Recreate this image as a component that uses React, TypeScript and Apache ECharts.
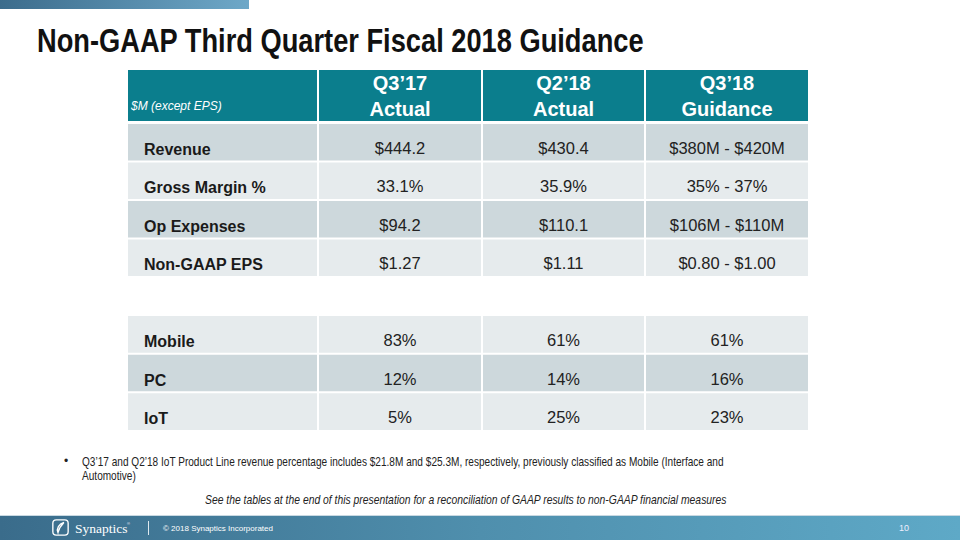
import React, { useEffect, useRef } from "react";
import * as echarts from "echarts";

// ---- data ----
const headerPeriods = ["Q3’17", "Q2’18", "Q3’18"];
const headerKinds = ["Actual", "Actual", "Guidance"];
const unitNote = "$M (except EPS)";

const financialMetrics = ["Revenue", "Gross Margin %", "Op Expenses", "Non-GAAP EPS"];
const q317Financial = ["$444.2", "33.1%", "$94.2", "$1.27"];
const q218Financial = ["$430.4", "35.9%", "$110.1", "$1.11"];
const q318Guidance = ["$380M - $420M", "35% - 37%", "$106M - $110M", "$0.80 - $1.00"];

const productLines = ["Mobile", "PC", "IoT"];
const q317Mix = ["83%", "12%", "5%"];
const q218Mix = ["61%", "14%", "25%"];
const q318Mix = ["61%", "16%", "23%"];

const titleText = "Non-GAAP Third Quarter Fiscal 2018 Guidance";
const footnoteLines = [
  "Q3’17 and Q2’18 IoT Product Line revenue percentage includes $21.8M and $25.3M, respectively, previously classified as Mobile (Interface and",
  "Automotive)",
];
const reconciliationNote =
  "See the tables at the end of this presentation for a reconciliation of GAAP results to non-GAAP financial measures";
const copyrightText = "© 2018 Synaptics Incorporated";
const pageNumber = "10";

// ---- layout / style constants ----
const COL_EDGES = [0, 190, 354, 517, 680];
const DARK = "#cdd8dc";
const LIGHT = "#e6ebed";
const TEAL = "#0b7e8d";
const FONT = "'Liberation Sans', Arial, sans-serif";

const LOGO_D =
  "M5 1 H15 Q19 1 19 5 V15 Q19 19 15 19 H5 Q1 19 1 15 V5 Q1 1 5 1 Z M14 4 C8 6 5 11 7 16 C8 12 10 8 14 4 Z";

function buildCells(rows: number, cols: number) {
  const out: number[][] = [];
  for (let r = 0; r < rows; r++) for (let c = 0; c < cols; c++) out.push([c, r]);
  return out;
}

function bodyRenderer(labels: string[], cols: string[][], shades: string[]) {
  return (params: any, api: any) => {
    const c = api.value(0) as number;
    const r = api.value(1) as number;
    const pL = api.coord([COL_EDGES[c], r]);
    const pR = api.coord([COL_EDGES[c + 1], r]);
    const bandH = api.size([0, 1])[1];
    const x0 = pL[0] + (c > 0 ? 1 : 0);
    const x1 = pR[0] - (c < 3 ? 1 : 0);
    const yc = pL[1];
    const y0 = yc - bandH / 2 + 1;
    const y1 = yc + bandH / 2 - 1;
    const children: any[] = [
      {
        type: "rect",
        shape: { x: x0, y: y0, width: x1 - x0, height: y1 - y0 },
        style: { fill: shades[r] },
      },
    ];
    if (c === 0) {
      children.push({
        type: "text",
        style: {
          text: labels[r],
          x: x0 + 16,
          y: yc + 7,
          align: "left",
          verticalAlign: "middle",
          font: `bold 16px ${FONT}`,
          fill: "#1a1a1a",
        },
      });
    } else {
      children.push({
        type: "text",
        style: {
          text: cols[c - 1][r],
          x: (x0 + x1) / 2,
          y: yc + 5.5,
          align: "center",
          verticalAlign: "middle",
          font: `16.5px ${FONT}`,
          fill: "#222",
        },
      });
    }
    return { type: "group", children };
  };
}

function headerRenderer(params: any, api: any) {
  const c = api.value(0) as number;
  const pL = api.coord([COL_EDGES[c], 0]);
  const pR = api.coord([COL_EDGES[c + 1], 0]);
  const bandH = api.size([0, 1])[1];
  const x0 = pL[0] + (c > 0 ? 1 : 0);
  const x1 = pR[0] - (c < 3 ? 1 : 0);
  const yc = pL[1];
  const children: any[] = [
    {
      type: "rect",
      shape: { x: x0, y: yc - bandH / 2, width: x1 - x0, height: bandH },
      style: { fill: TEAL },
    },
  ];
  if (c === 0) {
    children.push({
      type: "text",
      style: {
        text: unitNote,
        x: x0 + 3,
        y: yc + 10,
        align: "left",
        verticalAlign: "middle",
        font: `italic 12px ${FONT}`,
        fill: "#fff",
      },
    });
  } else {
    children.push(
      {
        type: "text",
        style: {
          text: headerPeriods[c - 1],
          x: (x0 + x1) / 2,
          y: yc - 13,
          align: "center",
          verticalAlign: "middle",
          font: `bold 20px ${FONT}`,
          fill: "#fff",
        },
      },
      {
        type: "text",
        style: {
          text: headerKinds[c - 1],
          x: (x0 + x1) / 2,
          y: yc + 13,
          align: "center",
          verticalAlign: "middle",
          font: `bold 20px ${FONT}`,
          fill: "#fff",
        },
      }
    );
  }
  return { type: "group", children };
}

export default function App() {
  const ref = useRef<HTMLDivElement>(null);
  useEffect(() => {
    if (!ref.current) return;
    echarts.graphic.registerShape("logo", echarts.graphic.extendPath(LOGO_D, {}) as any);
    const chart = echarts.init(ref.current, null, { renderer: "svg" });
    const hiddenX = (i: number) => ({ type: "value", gridIndex: i, min: 0, max: 680, show: false });
    const option: any = {
      animation: false,
      backgroundColor: "#ffffff",
      grid: [
        { left: 128, width: 680, top: 70, height: 51 },
        { left: 128, width: 680, top: 123, height: 154 },
        { left: 128, width: 680, top: 315, height: 116 },
      ],
      xAxis: [hiddenX(0), hiddenX(1), hiddenX(2)],
      yAxis: [
        { type: "category", gridIndex: 0, data: ["header"], inverse: true, show: false },
        { type: "category", gridIndex: 1, data: financialMetrics, inverse: true, show: false },
        { type: "category", gridIndex: 2, data: productLines, inverse: true, show: false },
      ],
      series: [
        {
          type: "custom",
          xAxisIndex: 0,
          yAxisIndex: 0,
          renderItem: headerRenderer,
          data: buildCells(1, 4),
          encode: { x: 0, y: 1 },
        },
        {
          type: "custom",
          xAxisIndex: 1,
          yAxisIndex: 1,
          renderItem: bodyRenderer(
            financialMetrics,
            [q317Financial, q218Financial, q318Guidance],
            [DARK, LIGHT, DARK, LIGHT]
          ),
          data: buildCells(financialMetrics.length, 4),
          encode: { x: 0, y: 1 },
        },
        {
          type: "custom",
          xAxisIndex: 2,
          yAxisIndex: 2,
          renderItem: bodyRenderer(productLines, [q317Mix, q218Mix, q318Mix], [LIGHT, DARK, LIGHT]),
          data: buildCells(productLines.length, 4),
          encode: { x: 0, y: 1 },
        },
      ],
      graphic: [
        {
          type: "rect",
          shape: { x: 0, y: 0, width: 249, height: 9 },
          style: {
            fill: {
              type: "linear", x: 0, y: 0, x2: 1, y2: 0,
              colorStops: [
                { offset: 0, color: "#3c6c8c" },
                { offset: 1, color: "#6ea8c8" },
              ],
            },
          },
        },
        {
          type: "text",
          x: 37,
          y: 40.5,
          scaleX: 0.826,
          style: {
            text: titleText,
            x: 0,
            y: 0,
            verticalAlign: "middle",
            font: `bold 33px ${FONT}`,
            fill: "#111",
          },
        },
        {
          type: "text",
          style: { text: "•", x: 64, y: 461, verticalAlign: "middle", font: `12px ${FONT}`, fill: "#222" },
        },
        {
          type: "text",
          x: 82,
          y: 454,
          scaleX: 0.84,
          style: {
            text: footnoteLines.join("\n"),
            x: 0,
            y: 0,
            lineHeight: 14.5,
            verticalAlign: "top",
            font: `12px ${FONT}`,
            fill: "#222",
          },
        },
        {
          type: "text",
          x: 205,
          y: 500,
          scaleX: 0.864,
          style: {
            text: reconciliationNote,
            x: 0,
            y: 0,
            align: "left",
            verticalAlign: "middle",
            font: `italic 12px ${FONT}`,
            fill: "#222",
          },
        },
        {
          type: "rect",
          shape: { x: 0, y: 516, width: 960, height: 24 },
          style: {
            fill: {
              type: "linear", x: 0, y: 0, x2: 1, y2: 0,
              colorStops: [
                { offset: 0, color: "#3a6c8b" },
                { offset: 0.5, color: "#4f8fad" },
                { offset: 1, color: "#5ea9c7" },
              ],
            },
          },
        },
        {
          type: "rect",
          shape: { x: 0, y: 515, width: 960, height: 1 },
          style: { fill: "#c9d9e2" },
        },
        {
          type: "logo",
          x: 52,
          y: 519,
          scaleX: 0.85,
          scaleY: 0.85,
          style: { fill: "none", stroke: "#fff", lineWidth: 1.6 },
        },
        {
          type: "text",
          style: {
            text: "Synaptics",
            x: 75,
            y: 528,
            verticalAlign: "middle",
            font: `13.5px 'Liberation Serif', serif`,
            fill: "#fff",
          },
        },
        {
          type: "text",
          style: { text: "®", x: 127, y: 523, verticalAlign: "middle", font: `4px ${FONT}`, fill: "#fff" },
        },
        {
          type: "rect",
          shape: { x: 148, y: 521, width: 1, height: 14 },
          style: { fill: "#dfe9ef" },
        },
        {
          type: "text",
          style: {
            text: copyrightText,
            x: 163,
            y: 528,
            verticalAlign: "middle",
            font: `8px ${FONT}`,
            fill: "#fff",
          },
        },
        {
          type: "text",
          style: {
            text: pageNumber,
            x: 904,
            y: 528,
            align: "center",
            verticalAlign: "middle",
            font: `9px ${FONT}`,
            fill: "#eef",
          },
        },
      ],
    };
    chart.setOption(option);
    return () => chart.dispose();
  }, []);
  return (
    <div
      ref={ref}
      style={{ position: "absolute", left: 0, top: 0, width: 960, height: 540 }}
    />
  );
}
